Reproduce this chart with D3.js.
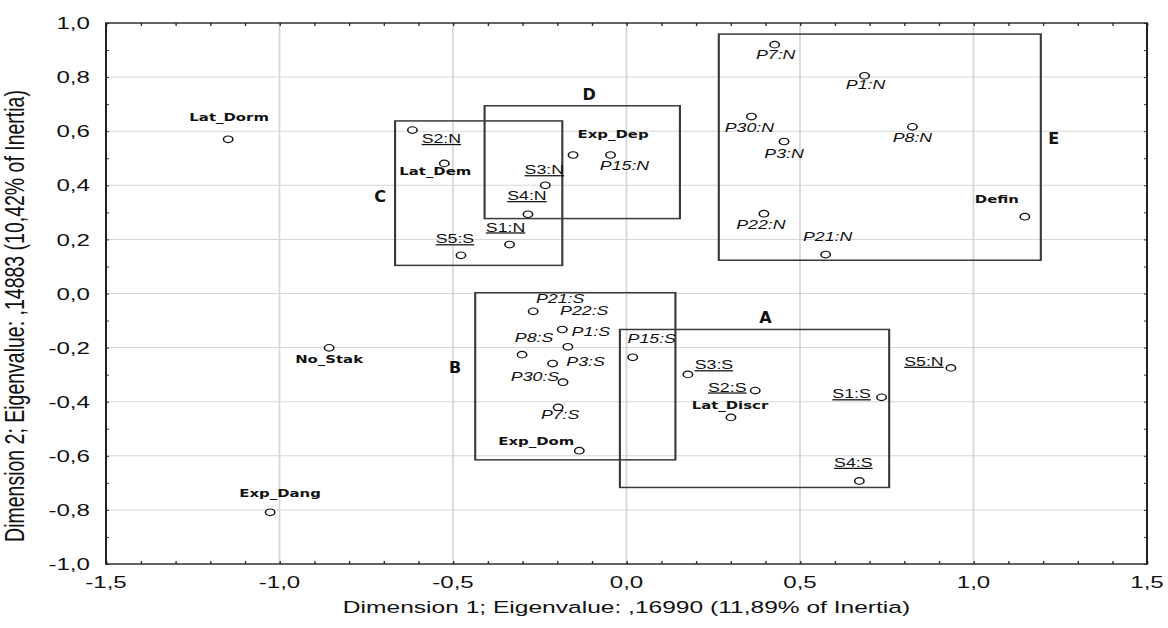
<!DOCTYPE html>
<html lang="en">
<head>
<meta charset="UTF-8">
<title>Correspondence analysis: dimension 1 x dimension 2</title>
<script src="https://d3js.org/d3.v7.min.js"></script>
<style>
  body { margin: 0; background: #fff; }
  svg { display: block; }
  text { font-family: "Liberation Sans", Arial, sans-serif; fill: #111; }
</style>
</head>
<body>
<div id="chart"></div>
<script>
// points of the map: S = row categories (underlined), P = column categories (italic), X = supplementary (bold)
const pointNames = ["Lat_Dorm", "S2:N", "Lat_Dem", "Exp_Dep", "P15:N", "S3:N", "S4:N", "S1:N", "S5:S",
  "P7:N", "P1:N", "P30:N", "P8:N", "P3:N", "P22:N", "P21:N", "Defin",
  "No_Stak", "P21:S", "P22:S", "P1:S", "P8:S", "P3:S", "P30:S", "P7:S", "Exp_Dom",
  "P15:S", "S3:S", "S2:S", "Lat_Discr", "S1:S", "S4:S", "S5:N", "Exp_Dang"];
const dim1 = [-1.148, -0.617, -0.525, -0.154, -0.046, -0.234, -0.284, -0.337, -0.477,
  0.427, 0.686, 0.360, 0.824, 0.454, 0.396, 0.574, 1.148,
  -0.857, -0.269, -0.185, -0.169, -0.301, -0.213, -0.183, -0.197, -0.136,
  0.018, 0.177, 0.371, 0.301, 0.735, 0.671, 0.935, -1.027];
const dim2 = [0.570, 0.604, 0.481, 0.512, 0.512, 0.400, 0.293, 0.181, 0.141,
  0.920, 0.805, 0.654, 0.616, 0.562, 0.295, 0.144, 0.284,
  -0.201, -0.066, -0.133, -0.197, -0.226, -0.259, -0.328, -0.421, -0.581,
  -0.236, -0.299, -0.359, -0.458, -0.384, -0.693, -0.275, -0.809];
const pointGroup = ["X", "S", "X", "X", "P", "S", "S", "S", "S",
  "P", "P", "P", "P", "P", "P", "P", "X",
  "X", "P", "P", "P", "P", "P", "P", "P", "X",
  "P", "S", "S", "X", "S", "S", "S", "X"];

// groups drawn as boxes
const boxNames = ["A", "B", "C", "D", "E"];
const boxLeft = [-0.019, -0.436, -0.667, -0.409, 0.266];
const boxRight = [0.757, 0.141, -0.185, 0.154, 1.194];
const boxTop = [-0.133, 0.003, 0.638, 0.694, 0.959];
const boxBottom = [-0.717, -0.615, 0.104, 0.277, 0.123];

const xTicks = [-1.5, -1.0, -0.5, 0.0, 0.5, 1.0, 1.5];
const yTicks = [-1.0, -0.8, -0.6, -0.4, -0.2, 0.0, 0.2, 0.4, 0.6, 0.8, 1.0];
const xTitle = "Dimension 1; Eigenvalue: ,16990 (11,89% of Inertia)";
const yTitle = "Dimension 2; Eigenvalue: ,14883 (10,42% of Inertia)";

// the original picture is stretched sideways, so draw in a narrower viewBox
const k = 1.42;
const W = 1168, H = 628;
const plot = { left: 106, right: 1147, top: 23, bottom: 564 };

// label placement, screen pixels from the marker (dx to text centre, dy to baseline)
const labelOffset = {
  "Lat_Dorm": [1, -18], "S2:N": [29, 13], "Lat_Dem": [-9, 12], "Exp_Dep": [40, -17],
  "P15:N": [14, 15], "S3:N": [-1, -11], "S4:N": [-1, -14], "S1:N": [-4, -13], "S5:S": [-6, -12],
  "P7:N": [1, 14], "P1:N": [1, 13], "P30:N": [-2, 15], "P8:N": [0, 15], "P3:N": [0, 17],
  "P22:N": [-3, 15], "P21:N": [2, -14], "Defin": [-28, -14],
  "No_Stak": [0, 15], "P21:S": [27, -8], "P22:S": [22, -14], "P1:S": [23, -11], "P8:S": [12, -13],
  "P3:S": [33, 2], "P30:S": [-28, -1], "P7:S": [2, 12], "Exp_Dom": [-43, -6],
  "P15:S": [19, -14], "S3:S": [26, -5], "S2:S": [-28, 1], "Lat_Discr": [-1, -8],
  "S1:S": [-30, 1], "S4:S": [-6, -14], "S5:N": [-27, -2], "Exp_Dang": [10, -15]
};
// box letter placement: side of the box and offset of the letter centre
const boxLetter = {
  A: ["top", 11, -12], B: ["left", -20, -9], C: ["left", -15, 3],
  D: ["top", 7, -12], E: ["right", 13, -9]
};

const svg = d3.select("#chart").append("svg")
  .attr("width", W).attr("height", H)
  .attr("viewBox", `0 0 ${W / k} ${H}`)
  .attr("preserveAspectRatio", "none");

const x = d3.scaleLinear().domain([-1.5, 1.5]).range([plot.left / k, plot.right / k]);
const y = d3.scaleLinear().domain([-1, 1]).range([plot.bottom, plot.top]);

// grid
svg.append("g").selectAll("line").data(xTicks.slice(1, -1)).join("line")
  .attr("x1", d => x(d)).attr("x2", d => x(d))
  .attr("y1", plot.top).attr("y2", plot.bottom)
  .attr("stroke", "#d6d6d6").attr("stroke-width", 1.2);
svg.append("g").selectAll("line").data(yTicks.slice(1, -1)).join("line")
  .attr("x1", plot.left / k).attr("x2", plot.right / k)
  .attr("y1", d => y(d)).attr("y2", d => y(d))
  .attr("stroke", "#d6d6d6").attr("stroke-width", 1);

// small inside ticks every 0.1 on all four sides
const xMinor = d3.range(-15, 16).map(i => i / 10);
const yMinor = d3.range(-10, 11).map(i => i / 10);
const tickAxes = [
  [d3.axisBottom(x).tickValues(xMinor).tickSize(-3), `translate(0,${plot.bottom})`],
  [d3.axisTop(x).tickValues(xMinor).tickSize(-3), `translate(0,${plot.top})`],
  [d3.axisLeft(y).tickValues(yMinor).tickSize(-3 / k), `translate(${plot.left / k},0)`],
  [d3.axisRight(y).tickValues(yMinor).tickSize(-3 / k), `translate(${plot.right / k},0)`]
];
tickAxes.forEach(([ax, tr]) => {
  const g = svg.append("g").attr("transform", tr).call(ax.tickFormat(""));
  g.select(".domain").remove();
  g.selectAll(".tick line").attr("stroke", "#333").attr("stroke-width", 1);
});

// frame
svg.append("rect")
  .attr("x", plot.left / k).attr("y", plot.top)
  .attr("width", (plot.right - plot.left) / k).attr("height", plot.bottom - plot.top)
  .attr("fill", "none").attr("stroke", "#222").attr("stroke-width", 1.4);

const fmt = v => v.toFixed(1).replace(".", ",");

// tick labels
svg.append("g").selectAll("text").data(yTicks).join("text")
  .attr("x", (plot.left - 16) / k).attr("y", d => y(d)).attr("dy", "0.36em")
  .attr("text-anchor", "end").style("font-size", "17px")
  .text(fmt);
svg.append("g").selectAll("text").data(xTicks).join("text")
  .attr("x", d => x(d)).attr("y", plot.bottom + 24)
  .attr("text-anchor", "middle").style("font-size", "17px")
  .text(fmt);

// axis titles
svg.append("text")
  .attr("x", (plot.left + plot.right) / 2 / k).attr("y", 613)
  .attr("text-anchor", "middle").style("font-size", "17.3px")
  .text(xTitle);
svg.append("text")
  .attr("transform", `translate(${24 / k},316) rotate(-90)`)
  .attr("text-anchor", "middle").style("font-size", "19.5px")
  .text(yTitle);

// boxes
const boxes = svg.append("g");
boxNames.forEach((name, i) => {
  const x0 = x(boxLeft[i]), x1 = x(boxRight[i]);
  const y0 = y(boxTop[i]), y1 = y(boxBottom[i]);
  boxes.append("rect")
    .attr("x", x0).attr("y", y0)
    .attr("width", x1 - x0).attr("height", y1 - y0)
    .attr("fill", "none").attr("stroke", "#3a3a3a").attr("stroke-width", 1.5);
  const [side, dx, dy] = boxLetter[name];
  let cx, cy;
  if (side === "top") { cx = (x0 + x1) / 2 + dx / k; cy = y0 + dy; }
  else if (side === "left") { cx = x0 + dx / k; cy = (y0 + y1) / 2 + dy; }
  else { cx = x1 + dx / k; cy = (y0 + y1) / 2 + dy; }
  // the letters were not stretched in the original
  boxes.append("text")
    .attr("transform", `translate(${cx},${cy + 6}) scale(${1 / k},1)`)
    .attr("text-anchor", "middle")
    .style("font-family", "'DejaVu Sans', sans-serif")
    .style("font-weight", "bold").style("font-size", "16px")
    .text(name);
});

// points
const pts = pointNames.map((name, i) => ({ name, d1: dim1[i], d2: dim2[i], group: pointGroup[i] }));

svg.append("g").selectAll("circle").data(pts).join("circle")
  .attr("cx", d => x(d.d1)).attr("cy", d => y(d.d2)).attr("r", 3.3)
  .attr("fill", "#fff").attr("stroke", "#111").attr("stroke-width", 1.1);

const labels = svg.append("g").selectAll("text").data(pts).join("text")
  .attr("x", d => x(d.d1) + labelOffset[d.name][0] / k)
  .attr("y", d => y(d.d2) + labelOffset[d.name][1])
  .attr("text-anchor", "middle")
  .text(d => d.name);

labels.filter(d => d.group === "X")
  .style("font-family", "'DejaVu Sans', sans-serif")
  .style("font-weight", "bold").style("font-size", "10.5px");
labels.filter(d => d.group === "P")
  .style("font-style", "italic").style("font-size", "12.5px");
labels.filter(d => d.group === "S")
  .style("font-size", "12.5px").style("text-decoration", "underline");
</script>
</body>
</html>
